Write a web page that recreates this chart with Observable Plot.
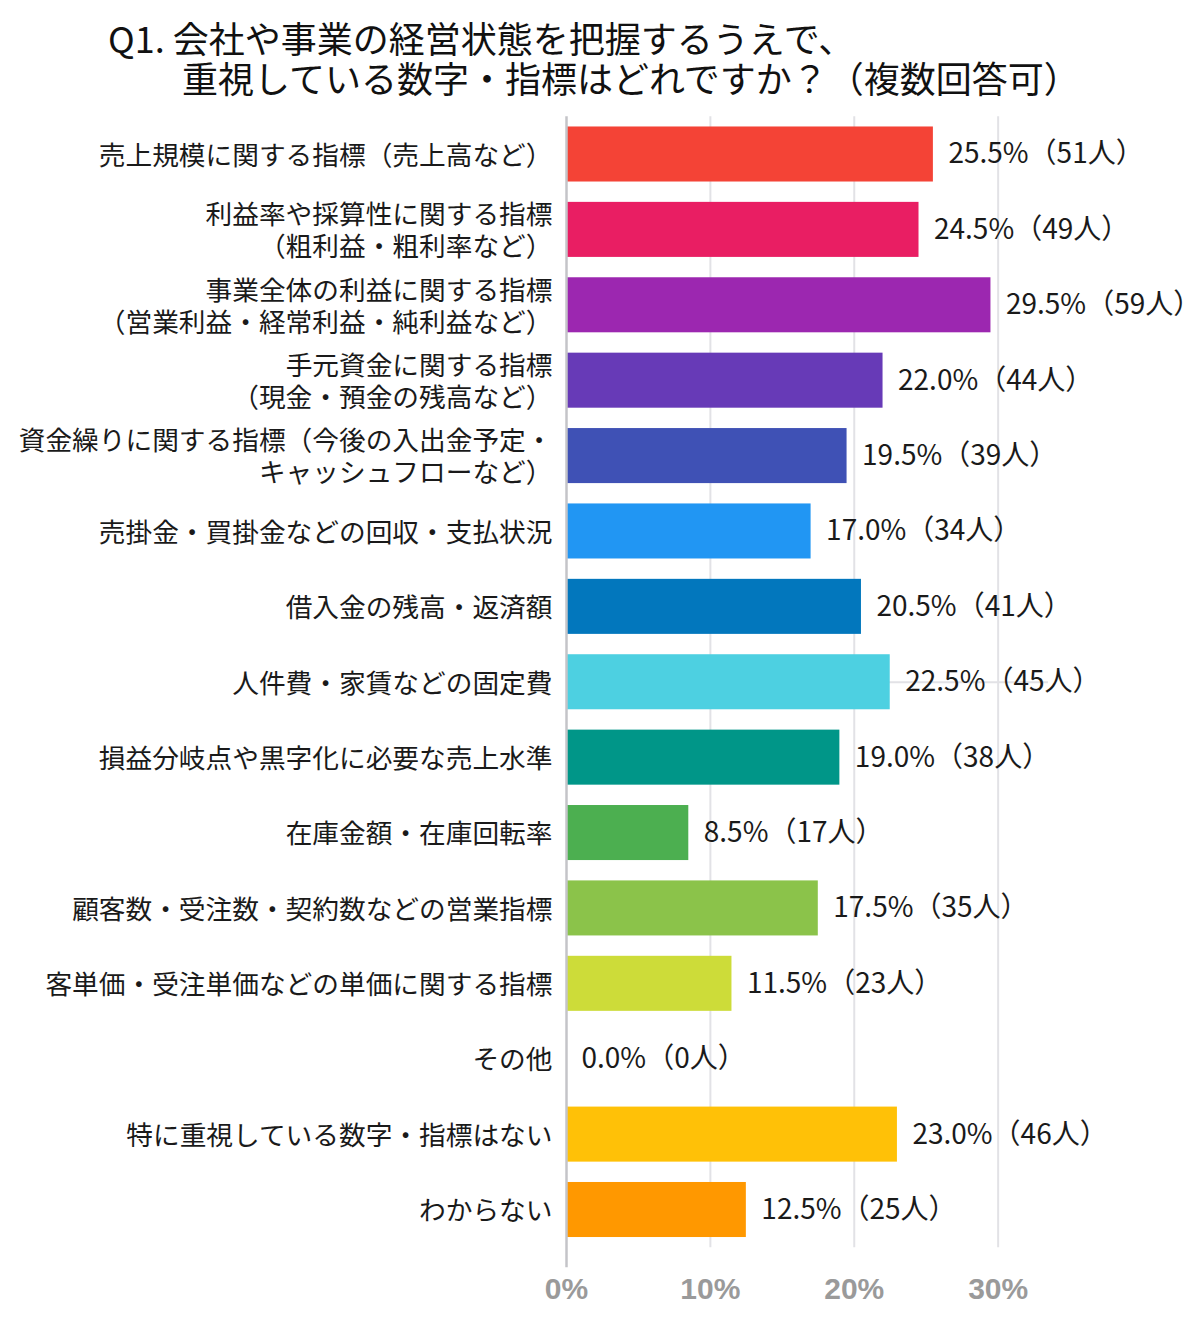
<!DOCTYPE html>
<html>
<head>
<meta charset="utf-8">
<script src="https://cdn.jsdelivr.net/npm/d3@7"></script>
<script src="https://cdn.jsdelivr.net/npm/@observablehq/plot@0.6"></script>
<style>
  html, body { margin: 0; padding: 0; background: #fff; }
  body { width: 1200px; height: 1320px; overflow: hidden; font-family: "Noto Sans CJK JP", "Noto Sans", sans-serif; }
  #title { position: relative; height: 110px; }
  #title div { position: absolute; font-size: 36px; line-height: 36px; color: #111; white-space: nowrap; }
  #chart svg { display: block; }
</style>
</head>
<body>
<div id="title">
  <div style="left:108px; top:19px;">Q1. 会社や事業の経営状態を把握するうえで、</div>
  <div style="left:182px; top:59px;">重視している数字・指標はどれですか？（複数回答可）</div>
</div>
<div id="chart"></div>
<script>
const categories = [
  "売上規模に関する指標（売上高など）",
  "利益率や採算性に関する指標\n（粗利益・粗利率など）",
  "事業全体の利益に関する指標\n（営業利益・経常利益・純利益など）",
  "手元資金に関する指標\n（現金・預金の残高など）",
  "資金繰りに関する指標（今後の入出金予定・\nキャッシュフローなど）",
  "売掛金・買掛金などの回収・支払状況",
  "借入金の残高・返済額",
  "人件費・家賃などの固定費",
  "損益分岐点や黒字化に必要な売上水準",
  "在庫金額・在庫回転率",
  "顧客数・受注数・契約数などの営業指標",
  "客単価・受注単価などの単価に関する指標",
  "その他",
  "特に重視している数字・指標はない",
  "わからない"
];
const percents = [25.5, 24.5, 29.5, 22.0, 19.5, 17.0, 20.5, 22.5, 19.0, 8.5, 17.5, 11.5, 0.0, 23.0, 12.5];
const counts = [51, 49, 59, 44, 39, 34, 41, 45, 38, 17, 35, 23, 0, 46, 25];
const colors = ["#F44336", "#E91E63", "#9C27B0", "#673AB7", "#3F51B5", "#2196F3", "#0277BD", "#4DD0E1",
                "#009688", "#4CAF50", "#8BC34A", "#CDDC39", "#9E9E9E", "#FFC107", "#FF9800"];
const xTicks = [0, 10, 20, 30];

const data = categories.map((c, i) => ({
  category: c, value: percents[i], count: counts[i], color: colors[i],
  label: `${percents[i].toFixed(1)}%（${counts[i]}人）`
}));

const H = 1210;
const chart = Plot.plot({
  width: 1200,
  height: H,
  marginLeft: 566,
  marginRight: 152,
  marginTop: 6.3,
  marginBottom: H - 1137.2,
  style: { fontFamily: '"Noto Sans CJK JP", "Noto Sans", sans-serif', background: "#fff", overflow: "visible" },
  x: { domain: [0, 33.5], axis: null },
  y: { domain: categories, paddingInner: 0.27, paddingOuter: 0.135, round: false, axis: null },
  color: { type: "identity" },
  marks: [
    Plot.ruleX(xTicks.filter(d => d > 0), { stroke: "#e2e2e6", strokeWidth: 2 }),
    Plot.ruleY([0], { frameAnchor: "bottom", y: null, stroke: "#e2e2e6", strokeWidth: 2 }),
    Plot.barX(data, { x: "value", y: "category", fill: "color" }),
    Plot.ruleX([0], { stroke: "#c4c4c8", strokeWidth: 2.5, insetBottom: -20 }),
    Plot.text(data, { x: "value", y: "category", text: "label", textAnchor: "start", dx: 15, fontSize: 28, fill: "#1a1a1a" }),
    Plot.axisY({ tickSize: 0, tickPadding: 14, fontSize: 26.7, lineHeight: 1.2, color: "#1a1a1a", label: null }),
    Plot.axisX(xTicks, { tickSize: 0, tickPadding: 30, fontSize: 30, fontWeight: "bold", fill: "#9a9a9a",
      fontFamily: '"Liberation Sans", Arial, sans-serif', tickFormat: d => `${d}%`, label: null })
  ]
});
document.getElementById("chart").appendChild(chart);
</script>
</body>
</html>
